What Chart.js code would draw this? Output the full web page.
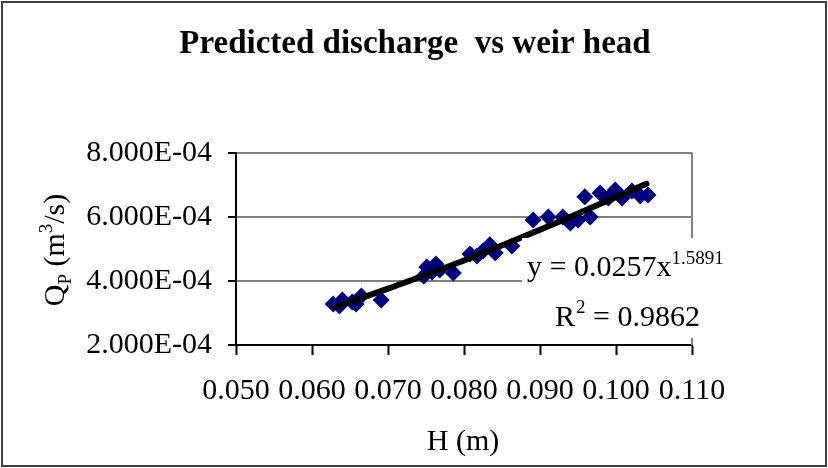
<!DOCTYPE html>
<html><head><meta charset="utf-8">
<script src="https://cdn.jsdelivr.net/npm/chart.js@4.4.1/dist/chart.umd.min.js"></script>
<style>html,body{margin:0;padding:0;background:#fff;}canvas{display:block;}</style>
</head><body>
<canvas id="c" width="828" height="468"></canvas>
<script>
// ---- data ----
const headH = [0.0628, 0.0636, 0.0640, 0.0653, 0.0658, 0.0665, 0.0691,
  0.0747, 0.0751, 0.0758, 0.0763, 0.0768, 0.0786,
  0.0808, 0.0817, 0.0825, 0.0834, 0.0841, 0.0863,
  0.0891, 0.0911, 0.0930, 0.0940, 0.0950, 0.0959, 0.0966,
  0.0979, 0.0990, 0.0999, 0.1008, 0.1021, 0.1032, 0.1042];
const dischargeQ = [3.28e-4, 3.22e-4, 3.41e-4, 3.34e-4, 3.28e-4, 3.53e-4, 3.41e-4,
  4.16e-4, 4.44e-4, 4.28e-4, 4.53e-4, 4.34e-4, 4.25e-4,
  4.84e-4, 4.78e-4, 4.94e-4, 5.13e-4, 4.88e-4, 5.09e-4,
  5.91e-4, 6.00e-4, 6.00e-4, 5.81e-4, 5.91e-4, 6.63e-4, 6.00e-4,
  6.75e-4, 6.59e-4, 6.84e-4, 6.59e-4, 6.81e-4, 6.66e-4, 6.69e-4];
const trendH = [0.063, 0.070, 0.080, 0.090, 0.104];
const trendQ = [3.18e-4, 3.76e-4, 4.64e-4, 5.60e-4, 7.04e-4];
const xTicks = [0.05, 0.06, 0.07, 0.08, 0.09, 0.10, 0.11];
const xTickLabels = ['0.050', '0.060', '0.070', '0.080', '0.090', '0.100', '0.110'];
const yTicks = [2e-4, 4e-4, 6e-4, 8e-4];
const yTickLabels = ['2.000E-04', '4.000E-04', '6.000E-04', '8.000E-04'];
const chartTitle = 'Predicted discharge  vs weir head';
const xTitle = 'H (m)';
const eqMain = 'y = 0.0257x';
const eqExp = '1.5891';
const r2Main = 'R';
const r2Sup = '2';
const r2Rest = ' = 0.9862';

const FONT = '"Liberation Serif", "Times New Roman", serif';

function lookup(ticks, labels, v) {
  for (let i = 0; i < ticks.length; i++) if (Math.abs(ticks[i] - v) < 1e-9) return labels[i];
  return '';
}

const deco = {
  id: 'deco',
  beforeDatasetsDraw(chart) {
    const {ctx, chartArea: a} = chart;
    ctx.save();
    ctx.strokeStyle = '#808080';
    ctx.lineWidth = 2;
    ctx.beginPath();
    ctx.moveTo(a.right, a.top);
    ctx.lineTo(a.right, a.bottom);
    ctx.stroke();
    ctx.restore();
  },
  afterDatasetsDraw(chart) {
    const ctx = chart.ctx;
    ctx.save();
    ctx.fillStyle = '#fff';
    ctx.fillRect(522, 238, 205, 100);
    ctx.fillStyle = '#000';
    ctx.textBaseline = 'alphabetic';
    ctx.textAlign = 'left';
    ctx.font = '30px ' + FONT;
    let x = 527;
    ctx.fillText(eqMain, x, 276);
    x += ctx.measureText(eqMain).width;
    ctx.font = '19px ' + FONT;
    ctx.fillText(eqExp, x, 264);
    let x2 = 555;
    ctx.font = '30px ' + FONT;
    ctx.fillText(r2Main, x2, 326);
    x2 += ctx.measureText(r2Main).width;
    ctx.font = '19px ' + FONT;
    ctx.fillText(r2Sup, x2 + 1, 313);
    x2 += ctx.measureText(r2Sup).width + 1;
    ctx.font = '30px ' + FONT;
    ctx.fillText(r2Rest, x2, 326);
    ctx.restore();
  },
  afterDraw(chart) {
    const ctx = chart.ctx;
    ctx.save();
    ctx.fillStyle = '#000';
    ctx.font = 'bold 33px ' + FONT;
    ctx.textAlign = 'center';
    ctx.textBaseline = 'alphabetic';
    ctx.fillText(chartTitle, 415, 53);
    ctx.font = '30px ' + FONT;
    ctx.fillText(xTitle, 463, 450);
    ctx.translate(64, 250);
    ctx.rotate(-Math.PI / 2);
    ctx.textAlign = 'left';
    const parts = [
      ['Q', 30, 0], ['P', 19, 7], [' (m', 30, 0], ['3', 19, -12], ['/s)', 30, 0]
    ];
    let total = 0;
    for (const p of parts) { ctx.font = p[1] + 'px ' + FONT; total += ctx.measureText(p[0]).width; }
    let u = -total / 2;
    for (const p of parts) {
      ctx.font = p[1] + 'px ' + FONT;
      ctx.fillText(p[0], u, p[2]);
      u += ctx.measureText(p[0]).width;
    }
    ctx.restore();
    ctx.save();
    ctx.strokeStyle = '#404040';
    ctx.lineWidth = 2;
    ctx.strokeRect(2, 2, 824, 464);
    ctx.restore();
  }
};

new Chart(document.getElementById('c'), {
  type: 'scatter',
  data: {
    datasets: [
      {
        label: 'Power trend',
        data: trendH.map((h, i) => ({x: h, y: trendQ[i]})),
        showLine: true,
        borderColor: '#000',
        borderWidth: 6,
        borderCapStyle: 'round',
        pointRadius: 0,
        tension: 0.4,
        order: 0
      },
      {
        label: 'Predicted discharge',
        data: headH.map((h, i) => ({x: h, y: dischargeQ[i]})),
        pointStyle: 'rectRot',
        pointRadius: 8.5,
        pointBackgroundColor: '#000080',
        pointBorderColor: '#000080',
        pointBorderWidth: 0,
        order: 1
      }
    ]
  },
  options: {
    responsive: false,
    animation: false,
    devicePixelRatio: 1,
    layout: {padding: {left: 0, right: 136, top: 153, bottom: 0}},
    plugins: {legend: {display: false}, title: {display: false}, tooltip: {enabled: false}},
    scales: {
      x: {
        type: 'linear', min: 0.05, max: 0.11,
        afterFit(s) { s.height = 123; },
        afterBuildTicks(s) { s.ticks = xTicks.map(v => ({value: v})); },
        ticks: {
          callback: v => lookup(xTicks, xTickLabels, v),
          font: {family: FONT, size: 30}, color: '#000', padding: 18, maxRotation: 0, autoSkip: false
        },
        grid: {drawOnChartArea: false, tickLength: 10, tickColor: '#000', tickWidth: 2},
        border: {display: true, color: '#000', width: 2}
      },
      y: {
        type: 'linear', min: 2e-4, max: 8e-4,
        afterFit(s) { s.width = 236; },
        afterBuildTicks(s) { s.ticks = yTicks.map(v => ({value: v})); },
        ticks: {
          callback: v => lookup(yTicks, yTickLabels, v),
          font: {family: FONT, size: 30}, color: '#000', padding: 16, autoSkip: false
        },
        grid: {color: '#808080', lineWidth: 2, tickLength: 8, tickColor: '#000', tickWidth: 2},
        border: {display: true, color: '#000', width: 2}
      }
    }
  },
  plugins: [deco]
});
</script>
</body></html>
